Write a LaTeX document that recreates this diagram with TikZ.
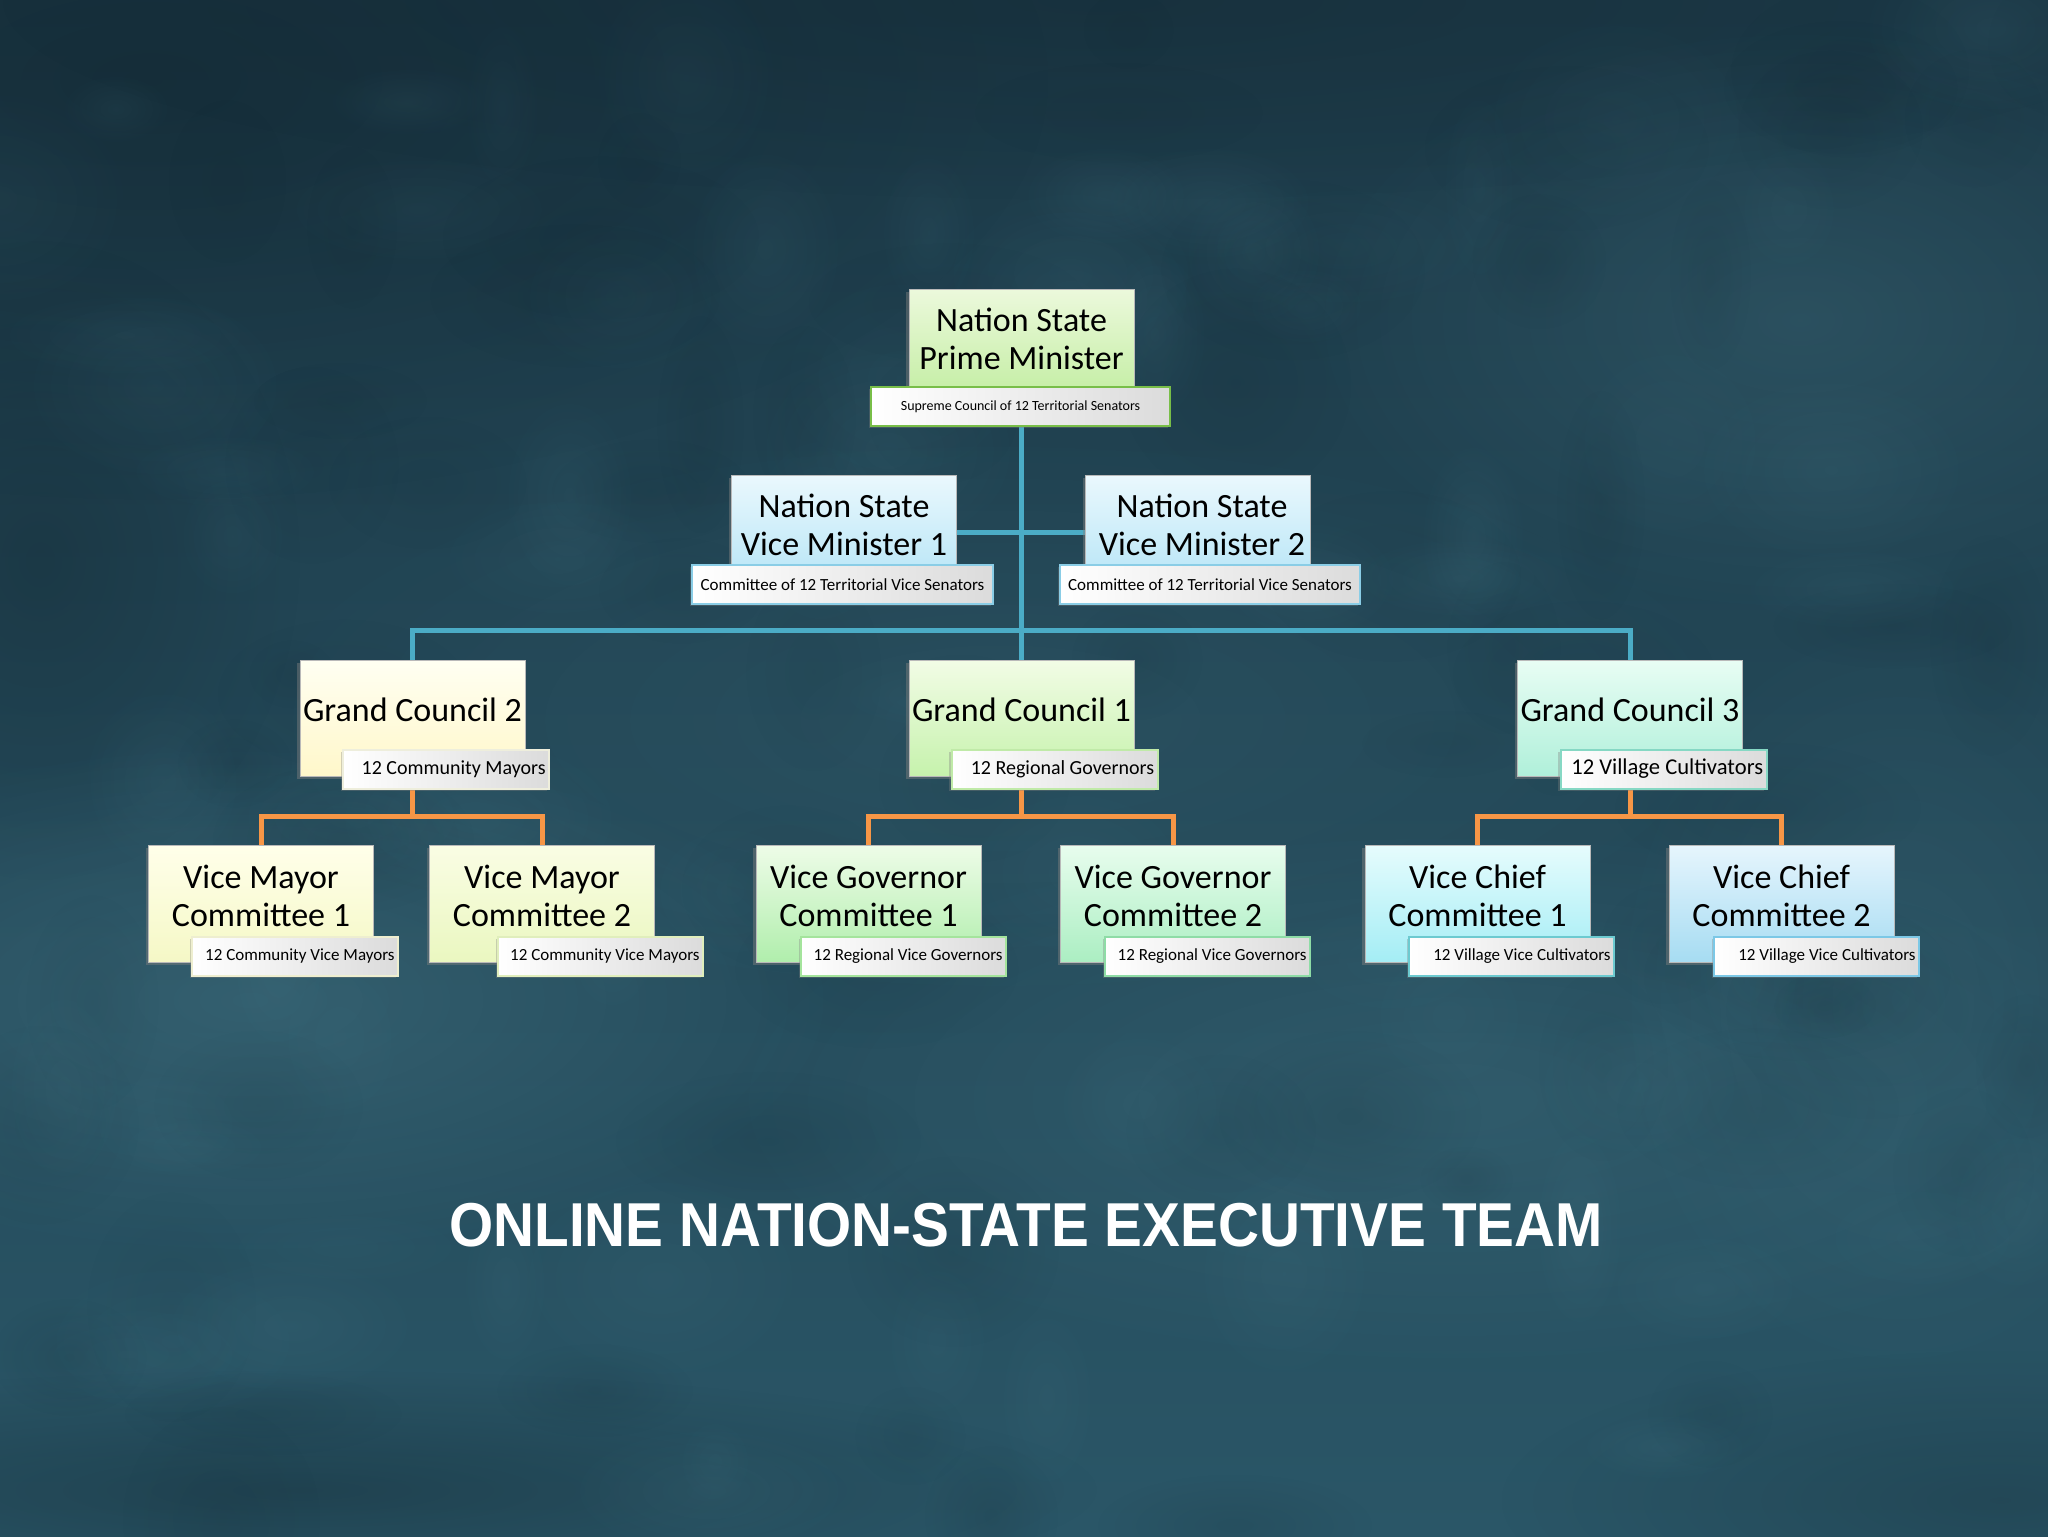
\documentclass[tikz,border=0pt]{standalone}
\usepackage{fontspec}
\setmainfont{Carlito}
\newfontfamily\titlefont{Liberation Sans}
\usetikzlibrary{calc,shadows,fadings}
\pgfdeclarelayer{bg}
\pgfdeclarelayer{lines}
\pgfsetlayers{bg,lines,main}

\definecolor{tealline}{HTML}{4BACC6}
\definecolor{orangeline}{HTML}{F79646}
\definecolor{pmT}{HTML}{ECF9DC}\definecolor{pmB}{HTML}{C4EEA4}\definecolor{pmS}{HTML}{78BE48}
\definecolor{vmT}{HTML}{EAF8FD}\definecolor{vmB}{HTML}{B4E4F6}\definecolor{vmS}{HTML}{8ACDE6}
\definecolor{gcaT}{HTML}{FFFFF2}\definecolor{gcaB}{HTML}{FFF7CA}\definecolor{gcaS}{HTML}{EEEEDC}
\definecolor{gcbT}{HTML}{F2FCE6}\definecolor{gcbB}{HTML}{C6F2AC}\definecolor{gcbS}{HTML}{C0EAA8}
\definecolor{gccT}{HTML}{E8FDF4}\definecolor{gccB}{HTML}{B0F0DA}\definecolor{gccS}{HTML}{86D8C4}
\definecolor{vmaT}{HTML}{FFFFEA}\definecolor{vmaB}{HTML}{F5F8C6}\definecolor{vmaS}{HTML}{EEEED0}
\definecolor{vmbT}{HTML}{FAFDE4}\definecolor{vmbB}{HTML}{EAF7C0}\definecolor{vmbS}{HTML}{E0EEBC}
\definecolor{vgaT}{HTML}{EEFCE8}\definecolor{vgaB}{HTML}{B0EEAC}\definecolor{vgaS}{HTML}{A4E49C}
\definecolor{vgbT}{HTML}{E8FDEE}\definecolor{vgbB}{HTML}{ABEEC2}\definecolor{vgbS}{HTML}{8EDCA6}
\definecolor{vcaT}{HTML}{E6FCFD}\definecolor{vcaB}{HTML}{A4EDF5}\definecolor{vcaS}{HTML}{6CCAD0}
\definecolor{vcbT}{HTML}{E6F5FD}\definecolor{vcbB}{HTML}{A6DCF2}\definecolor{vcbS}{HTML}{7CC8E6}
\definecolor{bgTop}{HTML}{1C3947}
\definecolor{bgMid}{HTML}{254C5C}
\definecolor{bgBot}{HTML}{2A5667}
\definecolor{bgLight}{HTML}{4F8494}
\definecolor{bgDark}{HTML}{0E2029}

\tikzfading[name=softblob, inner color=transparent!0, outer color=transparent!100]

\begin{document}
\begin{tikzpicture}[x=0.5pt,y=-0.5pt,
  mainbox/.style 2 args={rectangle, draw=gray!55, line width=0.4pt,
    top color=#1, bottom color=#2, minimum width=112.5pt, inner sep=0pt,
    drop shadow={shadow xshift=-1.5pt, shadow yshift=-1.5pt, opacity=0.45}},
  subbox/.style={rectangle, draw=#1, line width=1pt, left color=white,
    right color=black!14, minimum height=19.5pt, inner sep=0pt,
    drop shadow={shadow xshift=-1.2pt, shadow yshift=-1.2pt, opacity=0.35}},
  maintext/.style={font=\fontsize{17pt}{19pt}\selectfont, align=center, text=black, inner sep=0pt},
  subtext/.style={font=\fontsize{8.5pt}{10pt}\selectfont, text=black, inner sep=0pt},
  gctext/.style={font=\fontsize{10pt}{12pt}\selectfont, text=black, inner sep=0pt},
  tconn/.style={draw=tealline, line width=2.5pt},
  oconn/.style={draw=orangeline, line width=2.5pt},
  blob/.style={path fading=softblob}
]
\useasboundingbox (0,0) rectangle (2048,1536);

% background
\begin{pgfonlayer}{bg}
\shade[top color=bgTop, middle color=bgMid, bottom color=bgBot] (0,0) rectangle (2048,1536);
\fill[bgDark, opacity=0.45, blob] (150,80) ellipse [x radius=900, y radius=420];
\fill[bgDark, opacity=0.3, blob] (1100,0) ellipse [x radius=1100, y radius=200];
\fill[bgDark, opacity=0.3, blob] (40,560) ellipse [x radius=260, y radius=320];
\fill[bgLight, opacity=0.35, blob] (250,1000) ellipse [x radius=600, y radius=260];
\fill[bgLight, opacity=0.25, blob] (1450,1100) ellipse [x radius=750, y radius=280];
\fill[bgLight, opacity=0.25, blob] (1800,320) ellipse [x radius=500, y radius=300];
\fill[bgLight, opacity=0.15, blob] (1000,720) ellipse [x radius=800, y radius=300];
\fill[bgLight, opacity=0.2, blob] (1900,1000) ellipse [x radius=300, y radius=400];
\fill[bgDark, opacity=0.35, blob] (300,1490) ellipse [x radius=800, y radius=120];
\fill[bgDark, opacity=0.25, blob] (2000,1500) ellipse [x radius=500, y radius=150];
\pgfmathsetseed{7}
\foreach \i in {1,...,140}{
  \pgfmathsetmacro{\bx}{rnd*2048}
  \pgfmathsetmacro{\by}{rnd*1536}
  \pgfmathsetmacro{\brx}{40+rnd*120}
  \pgfmathsetmacro{\bry}{30+rnd*90}
  \pgfmathsetmacro{\bo}{0.06+rnd*0.08}
  \ifodd\i
    \fill[bgLight, opacity=\bo, blob] (\bx,\by) ellipse [x radius=\brx, y radius=\bry];
  \else
    \fill[bgDark, opacity=\bo, blob] (\bx,\by) ellipse [x radius=\brx, y radius=\bry];
  \fi
}
\end{pgfonlayer}

% level 0
\node[mainbox={pmT}{pmB}, minimum height=53pt] (pm) at (1021.5,342) {};
\node[subbox=pmS, minimum width=149.5pt] (pms) at (1020.5,406.5) {};
\node[maintext] (pmt) at ($(pm.center)+(0,-3)$) {Nation State\\Prime Minister};
\node[subtext, font=\fontsize{7pt}{8pt}\selectfont] (pmst) at (pms.center) {Supreme Council of 12 Territorial Senators};

% level 1
\node[mainbox={vmT}{vmB}, minimum height=57pt] (vma) at (844,532) {};
\node[subbox=vmS, minimum width=150.5pt] (vmas) at (842.5,584.5) {};
\node[maintext] (vmat) at ($(vma.center)+(0,-7.5)$) {Nation State\\Vice Minister 1};
\node[subtext] (vmast) at (vmas.center) {Committee of 12 Territorial Vice Senators};

\node[mainbox={vmT}{vmB}, minimum height=57pt] (vmb) at (1198,532) {};
\node[subbox=vmS, minimum width=150pt] (vmbs) at (1210,584.5) {};
\node[maintext] (vmbt) at ($(vmb.center)+(4,-7.5)$) {Nation State\\Vice Minister 2};
\node[subtext] (vmbst) at (vmbs.center) {Committee of 12 Territorial Vice Senators};

% level 2
\node[mainbox={gcaT}{gcaB}, minimum height=58pt] (gca) at (412.5,718) {};
\node[subbox=gcaS, minimum width=103pt] (gcas) at (446,769) {};
\node[maintext] (gcat) at ($(gca.center)+(0,-8)$) {Grand Council 2};
\node[gctext, anchor=east] (gcast) at ($(gcas.east)+(-4,0)$) {12 Community Mayors};

\node[mainbox={gcbT}{gcbB}, minimum height=58pt] (gcb) at (1021.5,718) {};
\node[subbox=gcbS, minimum width=103pt] (gcbs) at (1054.5,769) {};
\node[maintext] (gcbt) at ($(gcb.center)+(0,-8)$) {Grand Council 1};
\node[gctext, anchor=east] (gcbst) at ($(gcbs.east)+(-4,0)$) {12 Regional Governors};

\node[mainbox={gccT}{gccB}, minimum height=58pt] (gcc) at (1630,718) {};
\node[subbox=gccS, minimum width=103pt] (gccs) at (1663.5,769) {};
\node[maintext] (gcct) at ($(gcc.center)+(0,-8)$) {Grand Council 3};
\node[gctext, font=\fontsize{11.3pt}{13pt}\selectfont, anchor=east] (gccst) at ($(gccs.east)+(-4,0)$) {12 Village Cultivators};

% level 3
\node[mainbox={vmaT}{vmaB}, minimum height=58.5pt] (c1) at (261,903.5) {};
\node[subbox=vmaS, minimum width=103pt] (c1s) at (295,956.5) {};
\node[maintext] (c1t) at ($(c1.center)+(0,-8)$) {Vice Mayor\\Committee 1};
\node[subtext, anchor=east] (c1st) at ($(c1s.east)+(-4,0)$) {12 Community Vice Mayors};

\node[mainbox={vmbT}{vmbB}, minimum height=58.5pt] (c2) at (542,903.5) {};
\node[subbox=vmbS, minimum width=102.5pt] (c2s) at (600.5,956.5) {};
\node[maintext] (c2t) at ($(c2.center)+(0,-8)$) {Vice Mayor\\Committee 2};
\node[subtext, anchor=east] (c2st) at ($(c2s.east)+(-4,0)$) {12 Community Vice Mayors};

\node[mainbox={vgaT}{vgaB}, minimum height=58.5pt] (c3) at (868.5,903.5) {};
\node[subbox=vgaS, minimum width=102.5pt] (c3s) at (903.5,956.5) {};
\node[maintext] (c3t) at ($(c3.center)+(0,-8)$) {Vice Governor\\Committee 1};
\node[subtext, anchor=east] (c3st) at ($(c3s.east)+(-4,0)$) {12 Regional Vice Governors};

\node[mainbox={vgbT}{vgbB}, minimum height=58.5pt] (c4) at (1173,903.5) {};
\node[subbox=vgbS, minimum width=102.5pt] (c4s) at (1207.5,956.5) {};
\node[maintext] (c4t) at ($(c4.center)+(0,-8)$) {Vice Governor\\Committee 2};
\node[subtext, anchor=east] (c4st) at ($(c4s.east)+(-4,0)$) {12 Regional Vice Governors};

\node[mainbox={vcaT}{vcaB}, minimum height=58.5pt] (c5) at (1477.5,903.5) {};
\node[subbox=vcaS, minimum width=102.5pt] (c5s) at (1511.5,956.5) {};
\node[maintext] (c5t) at ($(c5.center)+(0,-8)$) {Vice Chief\\Committee 1};
\node[subtext, anchor=east] (c5st) at ($(c5s.east)+(-4,0)$) {12 Village Vice Cultivators};

\node[mainbox={vcbT}{vcbB}, minimum height=58.5pt] (c6) at (1781.5,903.5) {};
\node[subbox=vcbS, minimum width=102.5pt] (c6s) at (1816.5,956.5) {};
\node[maintext] (c6t) at ($(c6.center)+(0,-8)$) {Vice Chief\\Committee 2};
\node[subtext, anchor=east] (c6st) at ($(c6s.east)+(-4,0)$) {12 Village Vice Cultivators};

% title
\node[text=white, inner sep=0pt, font=\titlefont\bfseries\fontsize{31pt}{31pt}\selectfont] (title) at (1026,1225)
  {\scalebox{0.915}[1]{ONLINE NATION-STATE EXECUTIVE TEAM}};

% connectors
\coordinate (tbus) at (0,630);
\coordinate (obus) at (0,816);
\begin{pgfonlayer}{lines}
\draw[tconn] (pm.south |- pms.south) -- (gcb.north);
\draw[tconn] (vma.east) -- (vmb.west);
\draw[tconn] (gca.north) -- (gca.north |- tbus) -- (gcc.north |- tbus) -- (gcc.north);
\draw[oconn] (gca.south |- gcas.south) -- (gca.south |- obus);
\draw[oconn] (c1.north) -- (c1.north |- obus) -- (c2.north |- obus) -- (c2.north);
\draw[oconn] (gcb.south |- gcbs.south) -- (gcb.south |- obus);
\draw[oconn] (c3.north) -- (c3.north |- obus) -- (c4.north |- obus) -- (c4.north);
\draw[oconn] (gcc.south |- gccs.south) -- (gcc.south |- obus);
\draw[oconn] (c5.north) -- (c5.north |- obus) -- (c6.north |- obus) -- (c6.north);
\end{pgfonlayer}
\end{tikzpicture}
\end{document}
